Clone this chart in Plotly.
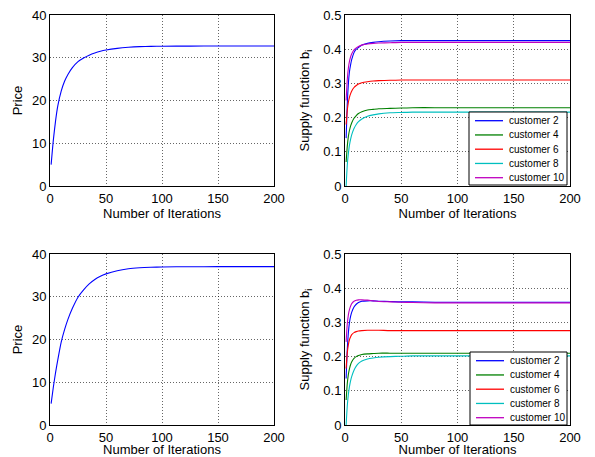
import plotly.graph_objects as go

# ---------------- data ----------------
iters_price = [1, 3, 5, 7, 10, 13, 16, 20, 25, 30, 35, 40, 45, 50, 60, 70, 80, 90, 100, 125, 150, 175, 200]
price_top = [5.0, 10.8, 15.3, 18.8, 22.2, 24.5, 26.1, 27.7, 29.1, 29.95, 30.6, 31.1, 31.5, 31.8,
             32.2, 32.45, 32.6, 32.67, 32.7, 32.73, 32.75, 32.75, 32.75]
price_bottom = [5.0, 8.9, 12.3, 15.3, 19.4, 22.3, 24.7, 27.3, 29.9, 31.6, 33.0, 34.05, 34.8, 35.35,
                36.1, 36.55, 36.78, 36.9, 36.97, 37.02, 37.04, 37.05, 37.05]

iters_b = [1, 2, 3, 4, 5, 6, 8, 10, 12, 15, 20, 25, 30, 40, 50, 60, 80, 100, 150, 200]
customers = ["customer 2", "customer 4", "customer 6", "customer 8", "customer 10"]
colors = ["#0000ff", "#008000", "#ff0000", "#00bfbf", "#bf00bf"]

b_top = {
    "customer 2": [0.14, 0.24, 0.30, 0.335, 0.355, 0.37, 0.39, 0.40, 0.405, 0.412, 0.417, 0.420, 0.422,
                   0.424, 0.425, 0.425, 0.425, 0.425, 0.425, 0.425],
    "customer 4": [0.07, 0.115, 0.145, 0.163, 0.176, 0.185, 0.198, 0.206, 0.212, 0.217, 0.222, 0.224,
                   0.226, 0.227, 0.228, 0.229, 0.229, 0.229, 0.229, 0.229],
    "customer 6": [0.18, 0.22, 0.245, 0.26, 0.27, 0.278, 0.288, 0.294, 0.298, 0.302, 0.305, 0.307,
                   0.308, 0.309, 0.31, 0.31, 0.31, 0.31, 0.31, 0.31],
    "customer 8": [0.0, 0.06, 0.095, 0.12, 0.137, 0.15, 0.168, 0.18, 0.188, 0.196, 0.204, 0.208,
                   0.211, 0.214, 0.215, 0.216, 0.216, 0.216, 0.216, 0.216],
    "customer 10": [0.25, 0.31, 0.345, 0.365, 0.378, 0.387, 0.398, 0.404, 0.408, 0.412, 0.415, 0.417,
                    0.418, 0.419, 0.42, 0.42, 0.42, 0.42, 0.42, 0.42],
}
b_bottom = {
    "customer 2": [0.136, 0.22, 0.27, 0.30, 0.318, 0.33, 0.345, 0.353, 0.358, 0.362, 0.363, 0.363,
                   0.362, 0.361, 0.36, 0.36, 0.359, 0.359, 0.359, 0.359],
    "customer 4": [0.073, 0.12, 0.148, 0.165, 0.177, 0.185, 0.195, 0.20, 0.203, 0.206, 0.208, 0.209,
                   0.21, 0.21, 0.21, 0.21, 0.21, 0.21, 0.21, 0.21],
    "customer 6": [0.165, 0.21, 0.235, 0.25, 0.258, 0.264, 0.27, 0.273, 0.275, 0.276, 0.277, 0.277,
                   0.277, 0.276, 0.276, 0.276, 0.276, 0.276, 0.276, 0.276],
    "customer 8": [0.0, 0.055, 0.09, 0.113, 0.13, 0.142, 0.16, 0.172, 0.18, 0.187, 0.193, 0.196,
                   0.198, 0.20, 0.201, 0.202, 0.202, 0.202, 0.202, 0.202],
    "customer 10": [0.243, 0.295, 0.322, 0.338, 0.348, 0.355, 0.362, 0.365, 0.366, 0.366, 0.365, 0.363,
                    0.361, 0.36, 0.359, 0.358, 0.357, 0.357, 0.357, 0.357],
}

price_ticks = [0, 10, 20, 30, 40]
b_ticks = [0, 0.1, 0.2, 0.3, 0.4, 0.5]
iter_ticks = [0, 50, 100, 150, 200]

# ---------------- layout ----------------
W, H = 595, 457
FONT = "Liberation Sans, Arial, Helvetica, sans-serif"

def px_x(p):
    return p / W

def px_y(p):
    return 1 - p / H

col_left = [px_x(50), px_x(274)]
col_right = [px_x(345), px_x(570)]
row_top = [px_y(186), px_y(15)]
row_bottom = [px_y(425), px_y(254)]

fig = go.Figure()

panels = [
    ("x", "y", col_left, row_top),
    ("x2", "y2", col_right, row_top),
    ("x3", "y3", col_left, row_bottom),
    ("x4", "y4", col_right, row_bottom),
]

line_kw = dict(shape="spline", smoothing=0.6, width=1.1)

fig.add_trace(go.Scatter(x=iters_price, y=price_top, mode="lines", line=dict(color="#0000ff", **line_kw),
                         showlegend=False, xaxis="x", yaxis="y"))
fig.add_trace(go.Scatter(x=iters_price, y=price_bottom, mode="lines", line=dict(color="#0000ff", **line_kw),
                         showlegend=False, xaxis="x3", yaxis="y3"))
for name, col in zip(customers, colors):
    fig.add_trace(go.Scatter(x=iters_b, y=b_top[name], mode="lines", name=name,
                             line=dict(color=col, **line_kw), showlegend=False, xaxis="x2", yaxis="y2"))
    fig.add_trace(go.Scatter(x=iters_b, y=b_bottom[name], mode="lines", name=name,
                             line=dict(color=col, **line_kw), showlegend=False, xaxis="x4", yaxis="y4"))

common = dict(
    showline=True, linecolor="black", linewidth=1, mirror=True,
    ticks="",
    showgrid=True, gridcolor="rgba(0,0,0,0.6)", griddash="1px,2px", gridwidth=1,
    zeroline=False, tickfont=dict(family=FONT, size=13, color="black"),
    automargin=False, fixedrange=True,
)

layout = dict(
    width=W, height=H, margin=dict(l=0, r=0, t=0, b=0),
    paper_bgcolor="white", plot_bgcolor="white",
    font=dict(family=FONT, size=13, color="black"),
    showlegend=False,
)

for i, (xa, ya, xd, yd) in enumerate(panels):
    xkey = "xaxis" if xa == "x" else "xaxis" + xa[1:]
    ykey = "yaxis" if ya == "y" else "yaxis" + ya[1:]
    is_price = i in (0, 2)
    layout[xkey] = dict(common, domain=xd, anchor=ya, range=[0, 200], tickvals=iter_ticks,
                        title=dict(text="Number of Iterations", standoff=3,
                                   font=dict(family=FONT, size=13, color="black")))
    if is_price:
        layout[ykey] = dict(common, domain=yd, anchor=xa, range=[0, 40], tickvals=price_ticks,
                            title=dict(text="Price", standoff=6,
                                       font=dict(family=FONT, size=13, color="black")))
    else:
        layout[ykey] = dict(common, domain=yd, anchor=xa, range=[0, 0.5], tickvals=b_ticks,
                            title=dict(text="Supply function b<sub>i</sub>", standoff=10,
                                       font=dict(family=FONT, size=13, color="black")))

fig.update_layout(**layout)

# ---------------- legends (one per right-hand panel) ----------------
shapes = []
annotations = []

def add_legend(box_left, box_top, box_right, box_bottom, first_row, row_step):
    shapes.append(dict(type="rect", xref="paper", yref="paper",
                       x0=px_x(box_left), x1=px_x(box_right), y0=px_y(box_bottom), y1=px_y(box_top),
                       line=dict(color="black", width=1), fillcolor="white", layer="above"))
    for k, (name, col) in enumerate(zip(customers, colors)):
        yc = box_top + first_row + k * row_step
        shapes.append(dict(type="line", xref="paper", yref="paper",
                           x0=px_x(box_left + 6), x1=px_x(box_left + 34), y0=px_y(yc), y1=px_y(yc),
                           line=dict(color=col, width=1.3), layer="above"))
        annotations.append(dict(xref="paper", yref="paper", x=px_x(box_left + 38), y=px_y(yc),
                                xanchor="left", yanchor="middle", showarrow=False, text=name,
                                font=dict(family=FONT, size=10, color="black")))

add_legend(469, 112, 567, 185, 8.7, 14.25)
add_legend(470, 352, 567, 425, 8.7, 14.25)

fig.update_layout(shapes=shapes, annotations=annotations)

fig.write_html("out.html", config={"displayModeBar": False},
               post_script="document.body.style.margin='0';document.body.style.overflow='hidden';")
